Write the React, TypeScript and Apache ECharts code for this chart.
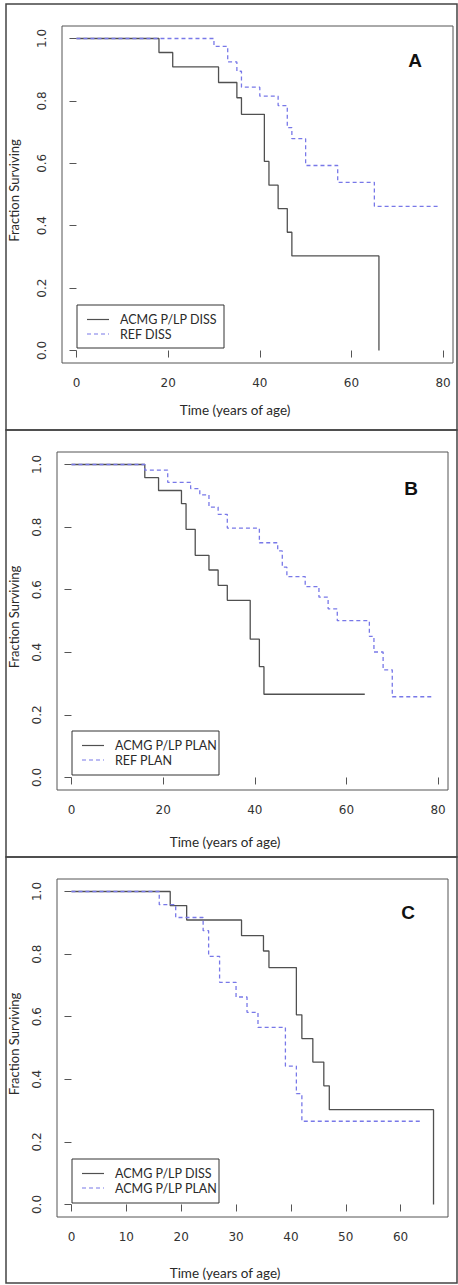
import React, { useEffect, useRef } from "react";
import * as echarts from "echarts";

// ---- Data ----
const dissTimes = [0, 18, 21, 31, 35, 36, 41, 42, 44, 46, 47, 66];
const dissSurv = [1, 0.955, 0.909, 0.859, 0.81, 0.757, 0.606, 0.53, 0.455, 0.379, 0.303, 0];

const refDissTimes = [0, 30, 33, 35, 36, 40, 44, 46, 47, 50, 57, 65, 79];
const refDissSurv = [1, 0.975, 0.925, 0.895, 0.844, 0.815, 0.785, 0.714, 0.679, 0.593, 0.539, 0.462, 0.462];

const planTimes = [0, 16, 19, 24, 25, 27, 30, 32, 34, 39, 41, 42, 64];
const planSurv = [1, 0.958, 0.917, 0.875, 0.793, 0.71, 0.663, 0.614, 0.566, 0.442, 0.354, 0.266, 0.266];

const refPlanTimes = [0, 16, 21, 26, 28, 30, 32, 34, 41, 45, 46, 47, 51, 54, 56, 58, 65, 66, 68, 70, 79];
const refPlanSurv = [1, 0.982, 0.943, 0.923, 0.903, 0.864, 0.841, 0.797, 0.75, 0.724, 0.672, 0.642, 0.61, 0.576, 0.539, 0.501, 0.451, 0.401, 0.344, 0.258, 0.258];

const xTicksAB = [0, 20, 40, 60, 80];
const xTicksC = [0, 10, 20, 30, 40, 50, 60];
const yTicks = [0, 0.2, 0.4, 0.6, 0.8, 1.0];

const panelLetters = ["A", "B", "C"];
const legendA = ["ACMG P/LP DISS", "REF DISS"];
const legendB = ["ACMG P/LP PLAN", "REF PLAN"];
const legendC = ["ACMG P/LP DISS", "ACMG P/LP PLAN"];
const xTitle = "Time (years of age)";
const yTitle = "Fraction Surviving";

const SOLID = "#505050";
const DASH = "#7878e8";

const pairs = (t: number[], s: number[]) => t.map((x, i) => [x, s[i]]);

// layout per panel
const panels = [
  {
    grid: { left: 62, top: 26, width: 391, height: 337 },
    xmin: -3.16, xmax: 82.16, xticks: xTicksAB,
    curves: [
      { name: legendA[0], t: dissTimes, s: dissSurv, dashed: false },
      { name: legendA[1], t: refDissTimes, s: refDissSurv, dashed: true },
    ],
    legend: legendA,
    legendBox: { x: 77, y: 305, w: 147, h: 43 },
    letter: { x: 415, y: 60 },
    xTitleY: 410, xTitleX: 235,
    frame: { y0: 4, y1: 430 },
  },
  {
    grid: { left: 57, top: 452, width: 391, height: 338 },
    xmin: -3.16, xmax: 82.16, xticks: xTicksAB,
    curves: [
      { name: legendB[0], t: planTimes, s: planSurv, dashed: false },
      { name: legendB[1], t: refPlanTimes, s: refPlanSurv, dashed: true },
    ],
    legend: legendB,
    legendBox: { x: 72, y: 731, w: 147, h: 44 },
    letter: { x: 411, y: 488 },
    xTitleY: 842, xTitleX: 225,
    frame: { y0: 430, y1: 857 },
  },
  {
    grid: { left: 57, top: 879, width: 391, height: 338 },
    xmin: -2.64, xmax: 68.64, xticks: xTicksC,
    curves: [
      { name: legendC[0], t: dissTimes, s: dissSurv, dashed: false },
      { name: legendC[1], t: planTimes, s: planSurv, dashed: true },
    ],
    legend: legendC,
    legendBox: { x: 72, y: 1159, w: 147, h: 44 },
    letter: { x: 408, y: 912 },
    xTitleY: 1273, xTitleX: 225,
    frame: { y0: 857, y1: 1283 },
  },
];

export default function App() {
  const ref = useRef<HTMLDivElement>(null);

  useEffect(() => {
    if (!ref.current) return;
    const chart = echarts.init(ref.current, null, { renderer: "svg" });

    const grids: any[] = [];
    const xAxes: any[] = [];
    const yAxes: any[] = [];
    const series: any[] = [];
    const graphics: any[] = [];

    panels.forEach((p, i) => {
      grids.push({
        ...p.grid,
        show: true,
        borderColor: "#555",
        borderWidth: 1,
        backgroundColor: "transparent",
        containLabel: false,
      });
      xAxes.push({
        type: "value",
        gridIndex: i,
        min: p.xmin,
        max: p.xmax,
        axisLine: { show: false },
        splitLine: { show: false },
        axisTick: { show: true, customValues: p.xticks, length: 7, lineStyle: { color: "#555" } },
        axisLabel: {
          customValues: p.xticks,
          margin: 14,
          fontFamily: "DejaVu Sans",
          fontSize: 12,
          color: "#333",
        },
      });
      yAxes.push({
        type: "value",
        gridIndex: i,
        min: -0.04,
        max: 1.04,
        axisLine: { show: false },
        splitLine: { show: false },
        axisTick: { show: true, customValues: yTicks, length: 7, lineStyle: { color: "#555" } },
        axisLabel: {
          customValues: yTicks,
          rotate: 90,
          margin: 14,
          fontFamily: "DejaVu Sans",
          fontSize: 12,
          color: "#333",
          formatter: (v: number) => v.toFixed(1),
        },
      });
      p.curves.forEach((c) => {
        series.push({
          type: "line",
          name: c.name,
          xAxisIndex: i,
          yAxisIndex: i,
          step: "end",
          symbol: "none",
          data: pairs(c.t, c.s),
          lineStyle: {
            color: c.dashed ? DASH : SOLID,
            width: 1.3,
            type: c.dashed ? [4, 3] : "solid",
          },
          z: c.dashed ? 3 : 2,
        });
      });

      // panel frame
      graphics.push({
        type: "rect",
        shape: { x: 6, y: p.frame.y0, width: 451, height: p.frame.y1 - p.frame.y0 },
        style: { fill: "none", stroke: "#444", lineWidth: 1.5 },
        silent: true,
      });
      // legend box
      const lb = p.legendBox;
      graphics.push({
        type: "rect",
        shape: { x: lb.x, y: lb.y, width: lb.w, height: lb.h },
        style: { fill: "#fff", stroke: "#333", lineWidth: 1 },
        z: 10,
      });
      const rowY = [lb.y + 14.5, lb.y + 29];
      p.curves.forEach((c, k) => {
        graphics.push({
          type: "line",
          shape: { x1: lb.x + 10, y1: rowY[k], x2: lb.x + 32, y2: rowY[k] },
          style: {
            stroke: c.dashed ? DASH : SOLID,
            lineWidth: 1.2,
            lineDash: c.dashed ? [4, 3] : null,
          },
          z: 11,
        });
        graphics.push({
          type: "text",
          x: lb.x + 43,
          y: rowY[k],
          style: {
            text: p.legend[k],
            font: "12.5px Lato",
            fill: "#2a2a2a",
            textAlign: "left",
            textVerticalAlign: "middle",
          },
          z: 11,
        });
      });
      // panel letter
      graphics.push({
        type: "text",
        x: p.letter.x,
        y: p.letter.y,
        style: {
          text: panelLetters[i],
          font: "bold 19px 'Liberation Sans'",
          fill: "#111",
          textAlign: "center",
          textVerticalAlign: "middle",
        },
        z: 11,
      });
      // x title
      graphics.push({
        type: "text",
        x: p.xTitleX,
        y: p.xTitleY,
        style: {
          text: xTitle,
          font: "13.5px Lato",
          fill: "#2a2a2a",
          textAlign: "center",
          textVerticalAlign: "middle",
        },
      });
      // y title
      graphics.push({
        type: "text",
        x: 14,
        y: p.grid.top + p.grid.height / 2 - 4,
        rotation: Math.PI / 2,
        style: {
          text: yTitle,
          font: "13px Lato",
          fill: "#2a2a2a",
          textAlign: "center",
          textVerticalAlign: "middle",
        },
      });
    });

    chart.setOption({
      animation: false,
      backgroundColor: "#fff",
      grid: grids,
      xAxis: xAxes,
      yAxis: yAxes,
      series,
      graphic: graphics,
    });

    return () => chart.dispose();
  }, []);

  return (
    <div
      ref={ref}
      style={{ position: "absolute", left: 0, top: 0, width: 458, height: 1285 }}
    />
  );
}
